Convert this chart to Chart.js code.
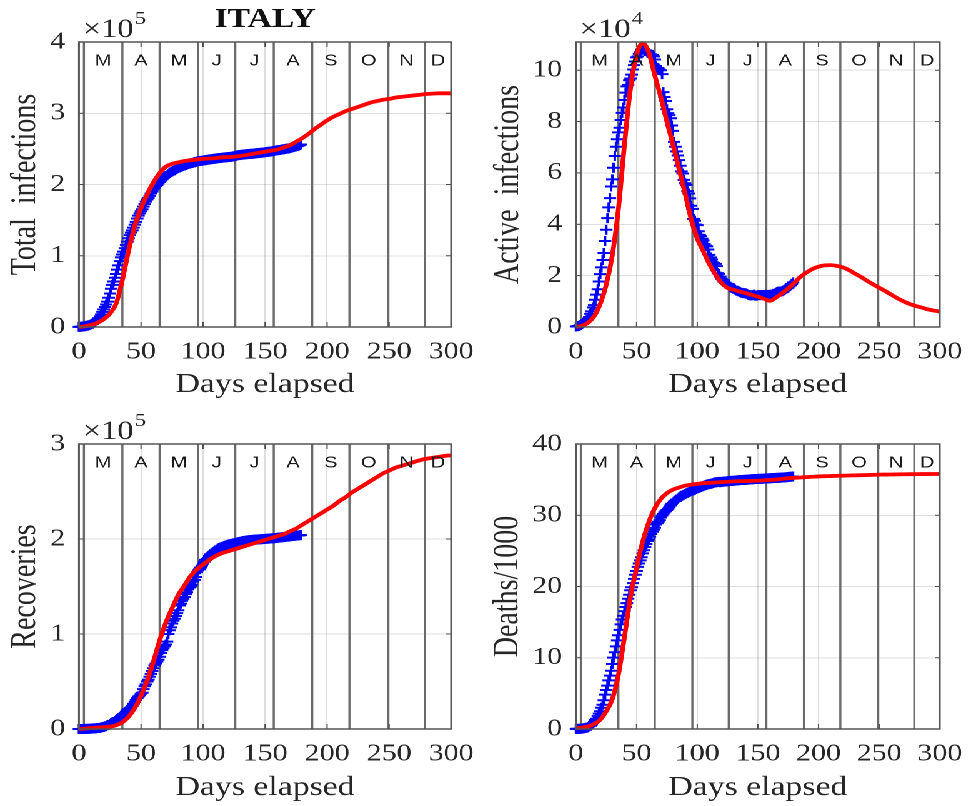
<!DOCTYPE html>
<html>
<head>
<meta charset="utf-8">
<script src="https://cdn.jsdelivr.net/npm/chart.js@4.4.1/dist/chart.umd.min.js"></script>
<style>
  body { margin: 0; background: #fff; }
  /* the source figure is stretched sideways, so the whole grid is too */
  #wrap { position: relative; width: 781px; height: 806px; transform: scaleX(1.2497); transform-origin: 0 0; }
  .cell { position: absolute; height: 403px; }
</style>
</head>
<body>
<div id="wrap">
  <div class="cell" style="left:0;top:0;width:390px"><canvas id="totalChart"></canvas></div>
  <div class="cell" style="left:390px;top:0;width:391px"><canvas id="activeChart"></canvas></div>
  <div class="cell" style="left:0;top:403px;width:390px"><canvas id="recoveredChart"></canvas></div>
  <div class="cell" style="left:390px;top:403px;width:391px"><canvas id="deathsChart"></canvas></div>
</div>
<script>
// month bands (day where each month starts) and letters
const monthLabels = ['M', 'A', 'M', 'J', 'J', 'A', 'S', 'O', 'N', 'D'];
const monthStarts = [4, 35, 65, 96, 126, 157, 188, 218, 249, 279];

const xTicks = [0, 50, 100, 150, 200, 250, 300];
const totalTicks = [0, 1, 2, 3, 4];
const activeTicks = [0, 2, 4, 6, 8, 10];
const recoveredTicks = [0, 1, 2, 3];
const deathsTicks = [0, 10, 20, 30, 40];

// observed data, one value per day from day 0
const totalObs = [
  0.002, 0.003, 0.004, 0.007, 0.009, 0.011,
  0.017, 0.020, 0.025, 0.031, 0.039, 0.046, 0.059, 0.074, 0.092, 0.101, 0.125, 0.151, 0.177, 0.212, 0.247, 0.280,
  0.315, 0.357, 0.410, 0.470, 0.536, 0.591, 0.639, 0.692, 0.744, 0.805, 0.865, 0.925, 0.977, 1.017, 1.058,
  1.106, 1.152, 1.198, 1.246, 1.289, 1.325, 1.356, 1.394, 1.436, 1.476, 1.523, 1.564, 1.595, 1.625, 1.652,
  1.689, 1.724, 1.759, 1.790, 1.812, 1.840, 1.873, 1.900, 1.930, 1.954, 1.977, 1.994, 2.015, 2.036, 2.055,
  2.074, 2.093, 2.107, 2.119, 2.130, 2.145, 2.159, 2.172, 2.183, 2.191, 2.198, 2.212, 2.221, 2.231, 2.239, 2.248,
  2.254, 2.259, 2.267, 2.274, 2.280, 2.287, 2.293, 2.299, 2.302, 2.306, 2.311, 2.317, 2.322, 2.327, 2.330,
  2.332, 2.334, 2.336, 2.339, 2.342, 2.345, 2.348, 2.351, 2.353, 2.356, 2.358, 2.361, 2.363, 2.366, 2.368,
  2.370, 2.372, 2.375, 2.377, 2.379, 2.381, 2.383, 2.385, 2.386, 2.388, 2.390, 2.393, 2.396, 2.399, 2.406,
  2.410, 2.412, 2.414, 2.417, 2.419, 2.421, 2.422, 2.424, 2.426, 2.428, 2.430, 2.432, 2.432, 2.434, 2.436, 2.438,
  2.441, 2.442, 2.444, 2.446, 2.448, 2.450, 2.453, 2.456, 2.458, 2.460, 2.462, 2.464, 2.467, 2.471, 2.475,
  2.478, 2.481, 2.482, 2.484, 2.487, 2.491, 2.494, 2.498, 2.501, 2.503, 2.506, 2.510, 2.515, 2.521, 2.527, 2.532,
  2.535, 2.539, 2.546, 2.553, 2.561
];
const activeObs = [
  0.02, 0.03, 0.04, 0.06, 0.08, 0.11,
  0.16, 0.18, 0.23, 0.27, 0.33, 0.39, 0.51, 0.61, 0.76, 0.85, 1.06, 1.26, 1.47, 1.77, 2.06, 2.32,
  2.61, 2.88, 3.35, 3.79, 4.24, 4.66, 5.02, 5.47, 5.75, 6.20, 6.66, 7.02, 7.31, 7.58, 7.76,
  8.06, 8.34, 8.55, 8.84, 9.13, 9.37, 9.43, 9.61, 9.68, 9.83, 10.03, 10.20, 10.34, 10.50, 10.54,
  10.64, 10.70, 10.81, 10.83, 10.82, 10.77, 10.77, 10.69, 10.67, 10.59, 10.62, 10.60, 10.54, 10.42, 10.16,
  10.09, 10.07, 10.02, 10.00, 9.85, 9.15, 8.96, 8.80, 8.48, 8.33, 8.25, 8.13, 7.85, 7.64, 7.21, 7.02,
  6.84, 6.68, 6.50, 6.28, 6.06, 5.98, 5.73, 5.60, 5.53, 5.29, 5.20, 5.01, 4.72, 4.60, 4.21,
  4.14, 3.99, 3.97, 3.73, 3.59, 3.54, 3.44, 3.37, 3.23, 3.17, 3.14, 3.02, 2.81, 2.71, 2.63,
  2.51, 2.49, 2.46, 2.37, 2.10, 2.07, 1.96, 1.88, 1.82, 1.76, 1.73, 1.69, 1.66, 1.66, 1.56,
  1.53, 1.52, 1.49, 1.46, 1.42, 1.41, 1.39, 1.37, 1.34, 1.33, 1.32, 1.32, 1.31, 1.29, 1.25, 1.24,
  1.23, 1.23, 1.24, 1.26, 1.22, 1.22, 1.24, 1.24, 1.24, 1.24, 1.24, 1.24, 1.25, 1.24, 1.24,
  1.25, 1.25, 1.26, 1.26, 1.29, 1.31, 1.34, 1.36, 1.38, 1.38, 1.38, 1.39, 1.42, 1.44, 1.49, 1.51,
  1.53, 1.58, 1.62, 1.68, 1.74
];
const recoveredObs = [
  0, 0, 0, 0, 0, 0.001,
  0.001, 0.001, 0.002, 0.003, 0.004, 0.005, 0.006, 0.006, 0.007, 0.010, 0.010, 0.013, 0.014, 0.020, 0.023, 0.027,
  0.029, 0.040, 0.044, 0.051, 0.061, 0.070, 0.074, 0.083, 0.094, 0.104, 0.110, 0.124, 0.130, 0.146, 0.157,
  0.168, 0.183, 0.198, 0.210, 0.218, 0.228, 0.244, 0.265, 0.285, 0.305, 0.325, 0.342, 0.354, 0.371, 0.381,
  0.42, 0.45, 0.47, 0.50, 0.52, 0.55, 0.58, 0.61, 0.64, 0.67, 0.69, 0.71, 0.73, 0.76, 0.80,
  0.83, 0.85, 0.87, 0.89, 0.92, 1.00, 1.04, 1.07, 1.11, 1.14, 1.16, 1.19, 1.22, 1.25, 1.30, 1.32,
  1.35, 1.37, 1.39, 1.42, 1.44, 1.47, 1.49, 1.50, 1.52, 1.55, 1.57, 1.60, 1.65, 1.67, 1.68,
  1.70, 1.72, 1.74, 1.76, 1.78, 1.79, 1.80, 1.82, 1.84, 1.85, 1.86, 1.87, 1.88, 1.89, 1.90,
  1.905, 1.91, 1.915, 1.92, 1.925, 1.93, 1.935, 1.94, 1.943, 1.946, 1.949, 1.952, 1.955, 1.958, 1.962,
  1.965, 1.968, 1.971, 1.974, 1.977, 1.979, 1.981, 1.983, 1.985, 1.987, 1.989, 1.990, 1.991, 1.992, 1.993, 1.994,
  1.995, 1.996, 1.997, 1.998, 1.999, 2.000, 2.001, 2.002, 2.003, 2.004, 2.005, 2.006, 2.007, 2.008, 2.009,
  2.011, 2.013, 2.014, 2.016, 2.017, 2.019, 2.020, 2.022, 2.023, 2.025, 2.026, 2.028, 2.029, 2.031, 2.032, 2.034,
  2.035, 2.037, 2.038, 2.040, 2.041
];
const deathsObs = [
  0.01, 0.02, 0.02, 0.03,
  0.03, 0.05, 0.08, 0.11, 0.15, 0.20, 0.23, 0.37, 0.46, 0.63, 0.83, 1.02, 1.27, 1.44, 1.81, 2.16,
  2.50, 2.98, 3.41, 4.03, 4.83, 5.48, 6.08, 6.82, 7.50, 8.17, 9.13, 10.02, 10.78, 11.59, 12.43,
  13.16, 13.92, 14.68, 15.36, 15.89, 16.52, 17.13, 17.67, 18.28, 18.85, 19.47, 19.90, 20.47, 21.07, 21.65,
  22.17, 22.75, 23.23, 23.66, 24.11, 24.65, 25.09, 25.55, 25.97, 26.38, 26.64, 26.98, 27.36, 27.68, 27.97,
  28.24, 28.71, 28.88, 29.08, 29.32, 29.68, 29.96, 30.20, 30.40, 30.56, 30.74, 30.91, 31.11, 31.37, 31.61, 31.76,
  31.91, 32.01, 32.17, 32.33, 32.49, 32.62, 32.74, 32.79, 32.88, 32.96, 33.07, 33.14, 33.23, 33.34, 33.42,
  33.48, 33.53, 33.60, 33.69, 33.77, 33.85, 33.90, 33.96, 34.04, 34.11, 34.17, 34.22, 34.30, 34.35, 34.37,
  34.41, 34.45, 34.51, 34.56, 34.61, 34.63, 34.66, 34.68, 34.64, 34.68, 34.71, 34.72, 34.74, 34.74, 34.77,
  34.79, 34.80, 34.82, 34.83, 34.85, 34.86, 34.87, 34.90, 34.91, 34.93, 34.94, 34.95, 34.96, 34.97, 34.98, 34.99,
  35.00, 35.02, 35.04, 35.05, 35.06, 35.07, 35.08, 35.09, 35.10, 35.11, 35.11, 35.12, 35.13, 35.14, 35.15,
  35.15, 35.17, 35.18, 35.19, 35.20, 35.21, 35.22, 35.23, 35.24, 35.25, 35.26, 35.27, 35.28, 35.29, 35.30, 35.31,
  35.32, 35.34, 35.36, 35.38, 35.40, 35.42, 35.44
];

// model fits, one value every 5 days from day 0 to day 300
const modelStep = 5;
const totalModel = [
  0.00, 0.01, 0.03, 0.06, 0.11, 0.19, 0.33, 0.66, 1.07, 1.42, 1.67, 1.86, 2.03, 2.16, 2.25, 2.29, 2.31, 2.33, 2.34, 2.35,
  2.36, 2.365, 2.37, 2.38, 2.385, 2.39, 2.40, 2.415, 2.43, 2.445, 2.46, 2.475, 2.49, 2.52, 2.55, 2.60, 2.65, 2.71, 2.78, 2.84,
  2.90, 2.95, 2.99, 3.03, 3.06, 3.09, 3.12, 3.15, 3.17, 3.19, 3.20, 3.22, 3.23, 3.24, 3.25, 3.26, 3.27, 3.275, 3.28, 3.28, 3.28
];
const activeModel = [
  0, 0.05, 0.17, 0.42, 0.9, 1.65, 2.8, 4.6, 7.1, 9.3, 10.6, 11.05, 10.7, 9.8, 8.95, 8.0, 7.1, 6.15, 5.2, 4.2,
  3.45, 2.95, 2.45, 2.05, 1.72, 1.52, 1.45, 1.38, 1.32, 1.25, 1.18, 1.1, 1.02, 1.15, 1.32, 1.5, 1.72, 1.95, 2.12, 2.26,
  2.35, 2.4, 2.41, 2.38, 2.32, 2.22, 2.08, 1.95, 1.8, 1.66, 1.53, 1.4, 1.26, 1.12, 1.0, 0.9, 0.82, 0.76, 0.69, 0.64, 0.6
];
const recoveredModel = [
  0, 0.005, 0.01, 0.015, 0.02, 0.025, 0.04, 0.07, 0.13, 0.22, 0.35, 0.51, 0.71, 0.93, 1.12, 1.27, 1.41, 1.51, 1.61, 1.68,
  1.73, 1.78, 1.82, 1.85, 1.87, 1.89, 1.91, 1.93, 1.95, 1.97, 1.99, 2.01, 2.03, 2.05, 2.08, 2.11, 2.15, 2.19, 2.23, 2.27,
  2.31, 2.35, 2.40, 2.44, 2.49, 2.53, 2.57, 2.61, 2.65, 2.69, 2.72, 2.75, 2.77, 2.79, 2.81, 2.83, 2.845, 2.855, 2.865, 2.875, 2.88
];
const deathsModel = [
  0.1, 0.2, 0.35, 0.7, 1.3, 2.5, 4.2, 7.6, 12.9, 18.6, 22.6, 26.3, 29.0, 31.0, 32.3, 33.1, 33.6, 33.9, 34.15, 34.3,
  34.4, 34.5, 34.55, 34.6, 34.65, 34.7, 34.75, 34.78, 34.8, 34.83, 34.85, 34.9, 34.95, 35.0, 35.1, 35.2, 35.25, 35.3, 35.35, 35.4,
  35.45, 35.48, 35.5, 35.53, 35.55, 35.58, 35.6, 35.62, 35.65, 35.67, 35.7, 35.71, 35.72, 35.74, 35.75, 35.76, 35.77, 35.78, 35.78, 35.79, 35.8
];

const serif = "'Liberation Serif', 'Times New Roman', serif";
const sans = "'Liberation Sans', Arial, sans-serif";
const gridColor = 'rgba(0, 0, 0, 0.13)';
const textColor = '#262626';

// month lines, month letters, box, inner ticks and the x10^n label, MATLAB style
const matlabDecor = {
  id: 'matlabDecor',
  beforeDatasetsDraw(chart) {
    const { ctx, chartArea: a, scales: { x } } = chart;
    ctx.save();
    ctx.strokeStyle = '#6a6a6a';
    ctx.lineWidth = 1.7;
    monthStarts.forEach(d => {
      const px = x.getPixelForValue(d);
      ctx.beginPath();
      ctx.moveTo(px, a.top);
      ctx.lineTo(px, a.bottom);
      ctx.stroke();
    });
    ctx.restore();
  },
  afterDatasetsDraw(chart, args, opts) {
    const { ctx, chartArea: a, scales: { x, y } } = chart;
    ctx.save();
    ctx.fillStyle = '#1a1a1a';
    ctx.font = '16px ' + sans;
    ctx.textAlign = 'center';
    ctx.textBaseline = 'middle';
    monthLabels.forEach((m, i) => {
      const end = i + 1 < monthStarts.length ? monthStarts[i + 1] : x.max;
      ctx.fillText(m, x.getPixelForValue((monthStarts[i] + end) / 2), a.top + 19);
    });

    ctx.strokeStyle = '#4d4d4d';
    ctx.lineWidth = 1;
    const seg = (x1, y1, x2, y2) => { ctx.beginPath(); ctx.moveTo(x1, y1); ctx.lineTo(x2, y2); ctx.stroke(); };
    xTicks.forEach(v => {
      const px = x.getPixelForValue(v);
      seg(px, a.bottom, px, a.bottom - 5);
      seg(px, a.top, px, a.top + 5);
    });
    y.ticks.forEach(t => {
      const py = y.getPixelForValue(t.value);
      seg(a.left, py, a.left + 4, py);
      seg(a.right, py, a.right - 4, py);
    });

    ctx.strokeStyle = '#555';
    ctx.lineWidth = 1.5;
    ctx.strokeRect(a.left, a.top, a.right - a.left, a.bottom - a.top);

    if (opts.exponent) {
      ctx.fillStyle = textColor;
      ctx.textAlign = 'left';
      ctx.textBaseline = 'alphabetic';
      ctx.font = '26px ' + serif;
      ctx.fillText('×10', a.left + 3, a.top - 5);
      const w = ctx.measureText('×10').width;
      ctx.font = '18px ' + serif;
      ctx.fillText(opts.exponent, a.left + 4 + w, a.top - 18);
    }
    ctx.restore();
  }
};

function makeChart(id, p) {
  return new Chart(document.getElementById(id), {
    type: 'line',
    data: {
      datasets: [{
        label: 'Model',
        data: p.model.map((v, i) => ({ x: i * modelStep, y: v })),
        borderColor: 'rgb(255, 0, 0)',
        borderWidth: 3.8,
        pointRadius: 0,
        cubicInterpolationMode: 'monotone',
        clip: false
      }, {
        label: 'Data',
        data: p.obs.map((v, i) => ({ x: i, y: v })),
        showLine: false,
        pointStyle: 'cross',
        pointRadius: 5,
        pointBorderWidth: 2,
        pointBorderColor: 'rgb(0, 0, 255)',
        clip: 8
      }]
    },
    plugins: [matlabDecor],
    options: {
      responsive: true,
      maintainAspectRatio: false,
      animation: false,
      events: [],
      devicePixelRatio: 2,
      layout: { padding: { left: 0, right: p.rightPad, top: p.topPad, bottom: 0 } },
      plugins: {
        legend: { display: false },
        tooltip: { enabled: false },
        title: {
          display: !!p.title,
          text: p.title || '',
          fullSize: false,
          color: '#111',
          font: { family: serif, size: 27, weight: 'bold' },
          padding: { top: 4, bottom: 5.6 }
        },
        matlabDecor: { exponent: p.exponent }
      },
      scales: {
        x: {
          type: 'linear',
          min: 0,
          max: 300,
          afterBuildTicks: s => { s.ticks = xTicks.map(v => ({ value: v })); },
          afterFit: s => { s.height = p.xHeight; },
          grid: { color: gridColor, lineWidth: 1, drawTicks: false },
          border: { display: false },
          ticks: { autoSkip: false, maxRotation: 0, padding: 11, color: textColor, font: { family: serif, size: 24 } },
          title: { display: true, text: 'Days elapsed', color: textColor, font: { family: serif, size: 27 }, padding: { top: 0, bottom: 2 } }
        },
        y: {
          min: 0,
          max: p.yMax,
          afterBuildTicks: s => { s.ticks = p.yTicks.map(v => ({ value: v })); },
          afterFit: s => { s.width = p.yWidth; },
          grid: { color: gridColor, lineWidth: 1, drawTicks: false },
          border: { display: false },
          ticks: { padding: 11, color: textColor, font: { family: serif, size: 24 } },
          title: { display: true, text: p.yTitle, color: textColor, font: { family: serif, size: 28 }, padding: { top: p.yTitlePad, bottom: 0 } }
        }
      }
    }
  });
}

makeChart('totalChart', {
  obs: totalObs, model: totalModel, yMax: 4, yTicks: totalTicks, yTitle: 'Total  infections',
  exponent: '5', title: 'ITALY', yWidth: 63.2, rightPad: 26.8, topPad: 0, xHeight: 76, yTitlePad: 4
});
makeChart('activeChart', {
  obs: activeObs, model: activeModel, yMax: 11.1, yTicks: activeTicks, yTitle: 'Active  infections',
  exponent: '4', yWidth: 70.9, rightPad: 20, topPad: 42, xHeight: 76, yTitlePad: 0.5
});
makeChart('recoveredChart', {
  obs: recoveredObs, model: recoveredModel, yMax: 3, yTicks: recoveredTicks, yTitle: 'Recoveries',
  exponent: '5', yWidth: 63.2, rightPad: 26.8, topPad: 41, xHeight: 77, yTitlePad: 4
});
makeChart('deathsChart', {
  obs: deathsObs, model: deathsModel, yMax: 40, yTicks: deathsTicks, yTitle: 'Deaths/1000',
  yWidth: 70.9, rightPad: 20, topPad: 41, xHeight: 77, yTitlePad: 0
});
</script>
</body>
</html>
